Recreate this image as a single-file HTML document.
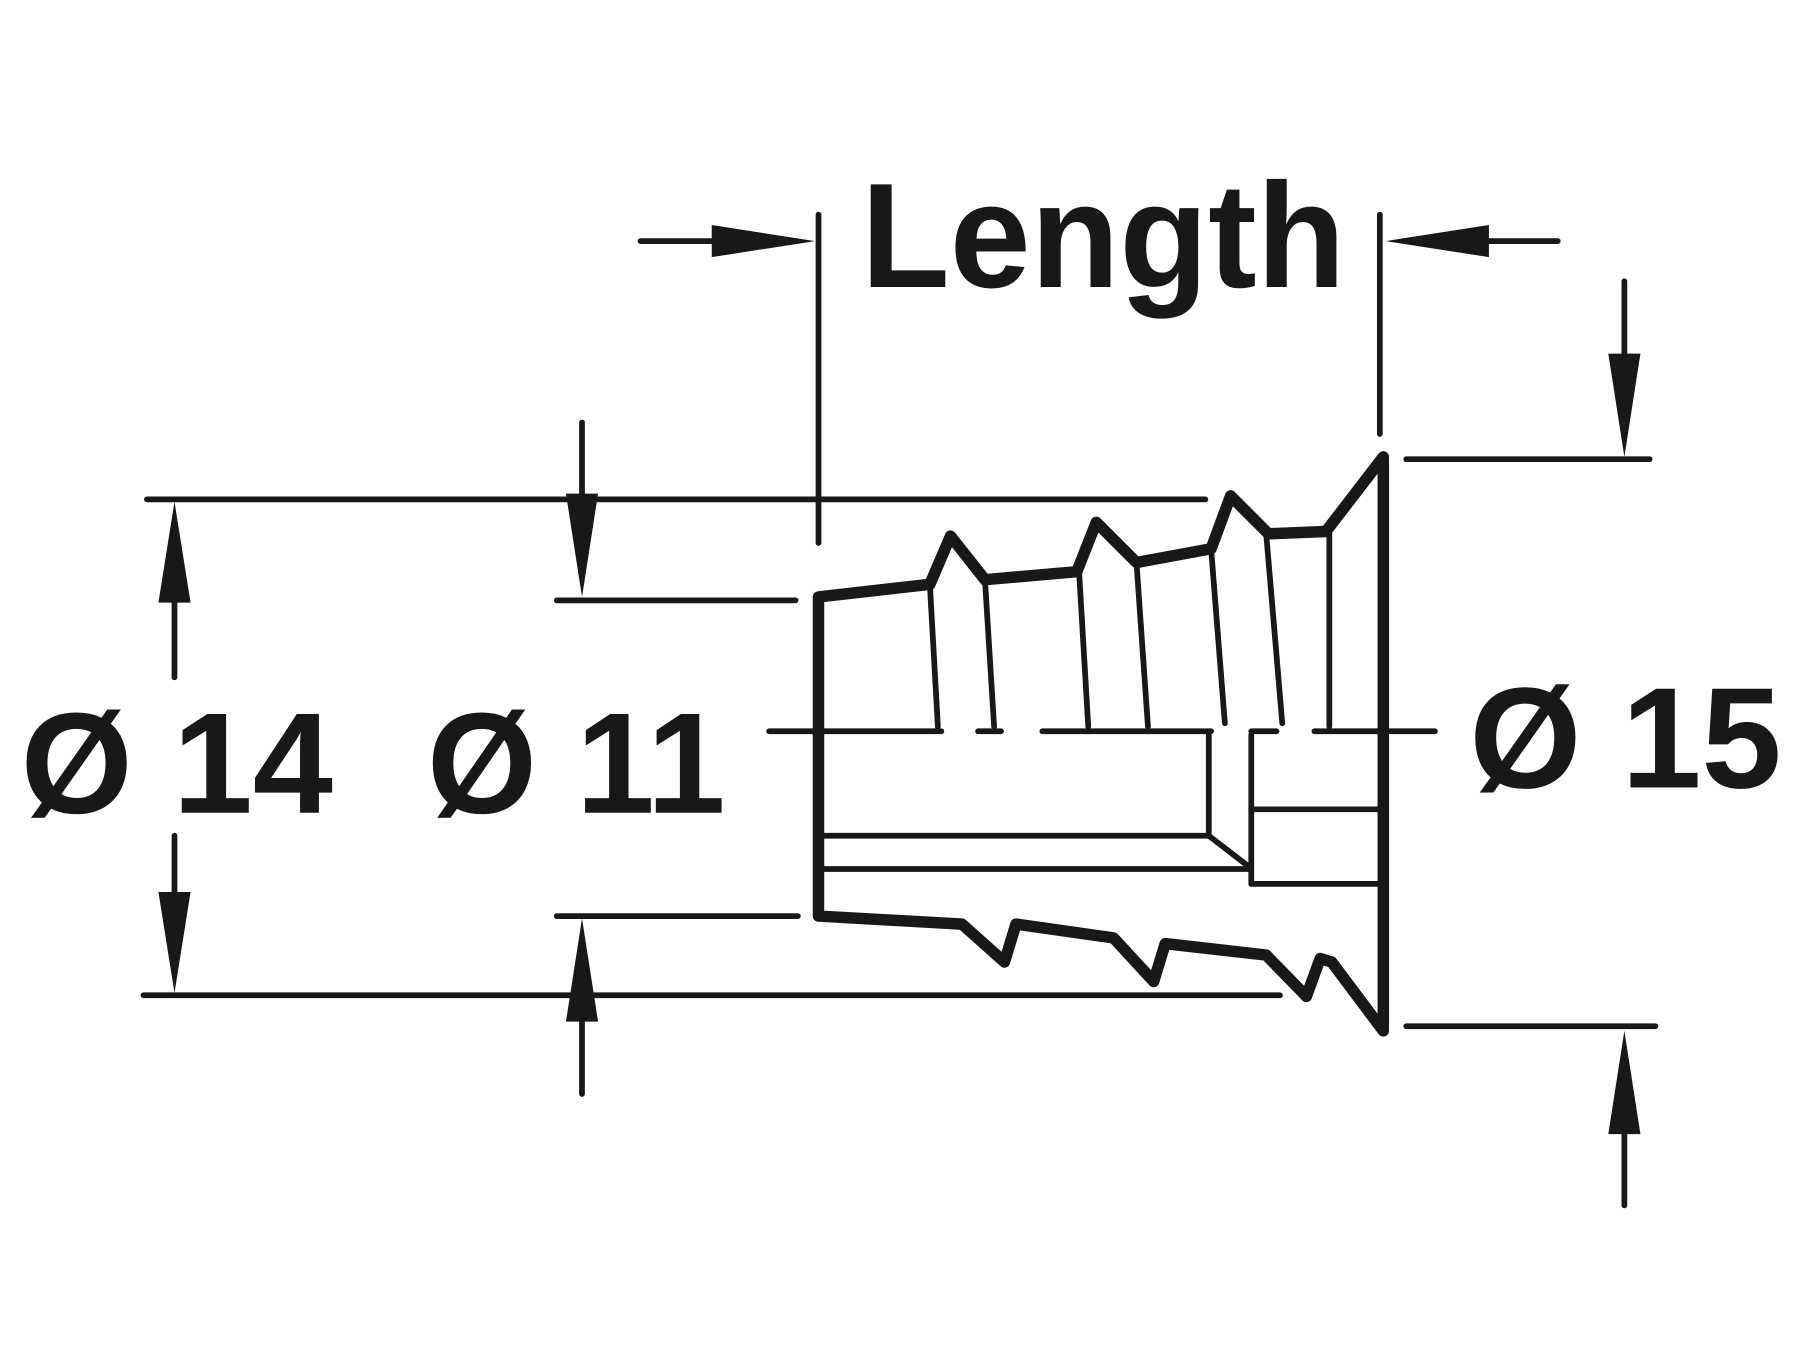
<!DOCTYPE html>
<html><head><meta charset="utf-8"><style>
html,body{margin:0;padding:0;background:#fff;width:1800px;height:1350px;overflow:hidden}
svg{display:block}
text{font-family:"Liberation Sans",sans-serif;font-weight:bold;fill:#1a1718}
</style></head><body>
<svg width="1800" height="1350" viewBox="0 0 1568 1176" xmlns="http://www.w3.org/2000/svg">
<g stroke="#1a1718" stroke-linecap="round" fill="none">
<g stroke-width="5">
<line x1="713" y1="187" x2="713" y2="473"/>
<line x1="1202" y1="187" x2="1202" y2="378"/>
<line x1="558" y1="210" x2="625" y2="210"/>
<line x1="1290" y1="210" x2="1357" y2="210"/>
<line x1="1415" y1="245" x2="1415" y2="315"/>
<line x1="1225" y1="400" x2="1437" y2="400"/>
<line x1="1225" y1="894" x2="1442" y2="894"/>
<line x1="1415" y1="980" x2="1415" y2="1050"/>
<line x1="128" y1="435" x2="1050" y2="435"/>
<line x1="125" y1="867" x2="1115" y2="867"/>
<line x1="152" y1="520" x2="152" y2="590"/>
<line x1="152" y1="728" x2="152" y2="785"/>
<line x1="485" y1="523" x2="693" y2="523"/>
<line x1="485" y1="798" x2="695" y2="798"/>
<line x1="507" y1="368" x2="507" y2="435"/>
<line x1="507" y1="885" x2="507" y2="953"/>
<line x1="670" y1="637" x2="820" y2="637"/>
<line x1="852" y1="637" x2="872" y2="637"/>
<line x1="908" y1="637" x2="1055" y2="637"/>
<line x1="1090" y1="637" x2="1112" y2="637"/>
<line x1="1145" y1="637" x2="1250" y2="637"/>
<line x1="810" y1="509" x2="817" y2="633"/>
<line x1="858" y1="505" x2="866" y2="633"/>
<line x1="940" y1="498" x2="948" y2="633"/>
<line x1="990" y1="490" x2="1000" y2="633"/>
<line x1="1055" y1="478" x2="1067" y2="630"/>
<line x1="1103" y1="465" x2="1117" y2="630"/>
<line x1="1158" y1="463" x2="1158" y2="633"/>
<line x1="1053" y1="637" x2="1053" y2="728"/>
<line x1="718" y1="728" x2="1053" y2="728"/>
<line x1="1053" y1="728" x2="1088" y2="755"/>
<line x1="718" y1="757" x2="1088" y2="757"/>
<line x1="1090" y1="640" x2="1090" y2="770"/>
<line x1="1090" y1="705" x2="1200" y2="705"/>
<line x1="1090" y1="770" x2="1200" y2="770"/>
</g>
<path stroke-width="10" stroke-linejoin="round" d="M713,798 L713,520 L810,509 L828,467 L858,505 L938,498 L955,455 L990,490 L1055,478 L1072,432 L1105,465 L1155,463 L1205,398 L1205,898 L1160,838 L1150,835 L1138,868 L1103,832 L1015,822 L1005,855 L970,817 L885,805 L875,838 L838,805 Z"/>
</g>
<g fill="#1a1718">
<polygon points="710,210 620,196 620,224"/>
<polygon points="1207,210 1297,196 1297,224"/>
<polygon points="1415,398 1401,308 1429,308"/>
<polygon points="1415,898 1401,988 1429,988"/>
<polygon points="152,437 138,525 166,525"/>
<polygon points="152,865 138,777 166,777"/>
<polygon points="507,520 493,430 521,430"/>
<polygon points="507,800 493,890 521,890"/>
</g>
<text x="750" y="250" font-size="130" textLength="422" lengthAdjust="spacingAndGlyphs">Length</text>
<text x="18" y="708" font-size="125" textLength="272" lengthAdjust="spacingAndGlyphs">Ø 14</text>
<text x="372" y="708" font-size="125" textLength="260" lengthAdjust="spacingAndGlyphs">Ø 11</text>
<text x="1280" y="686" font-size="125" textLength="272" lengthAdjust="spacingAndGlyphs">Ø 15</text>
</svg>
</body></html>
